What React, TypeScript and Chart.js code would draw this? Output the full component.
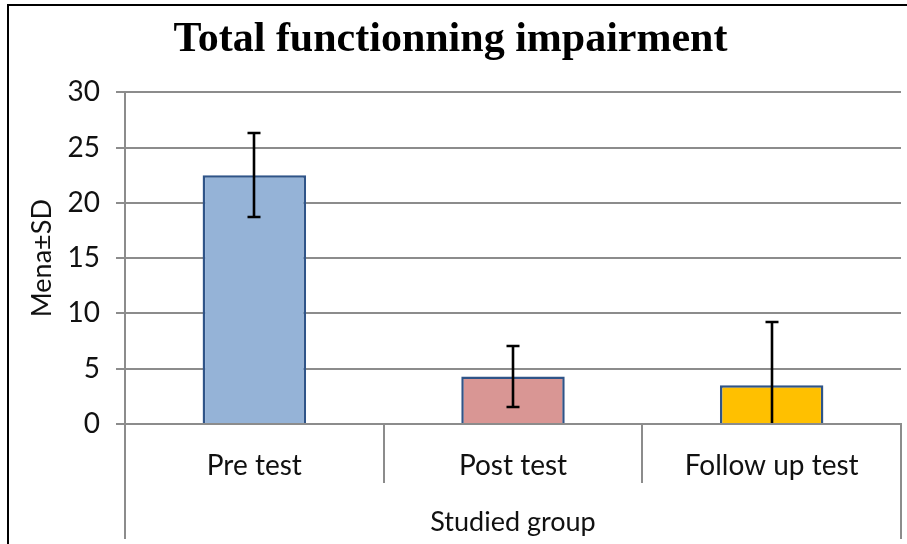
import React, { useEffect, useRef } from "react";
import { Chart, registerables } from "chart.js";

Chart.register(...registerables);

const chartTitle = "Total functionning impairment";
const categories = ["Pre test", "Post test", "Follow up test"];
const means = [22.5, 4.3, 3.5];
const sds = [3.8, 2.8, 5.7];
const barColors = ["#95B3D7", "#D99694", "#FFC000"];
const yTitle = "Mena±SD";
const xTitle = "Studied group";

const GRID = "#8c8c8c";
const FONT = "Lato";
const TEXT = "#111";

const errorBarPlugin = {
  id: "errorBars",
  afterDatasetsDraw(chart: any) {
    const { ctx, chartArea } = chart;
    const meta = chart.getDatasetMeta(0);
    const y = chart.scales.y;
    ctx.save();
    ctx.beginPath();
    ctx.rect(chartArea.left, chartArea.top - 4, chartArea.right - chartArea.left, chartArea.bottom - chartArea.top + 3);
    ctx.clip();
    ctx.strokeStyle = "#000";
    ctx.lineWidth = 2.6;
    meta.data.forEach((bar: any, i: number) => {
      const x = Math.round(bar.x);
      const top = Math.round(y.getPixelForValue(means[i] + sds[i]));
      const bot = Math.round(y.getPixelForValue(means[i] - sds[i]));
      const cap = 6.5;
      ctx.beginPath();
      ctx.moveTo(x, top);
      ctx.lineTo(x, bot);
      ctx.moveTo(x - cap, top);
      ctx.lineTo(x + cap, top);
      ctx.moveTo(x - cap, bot);
      ctx.lineTo(x + cap, bot);
      ctx.stroke();
    });
    ctx.restore();
  },
};

const framePlugin = {
  id: "frame",
  afterDraw(chart: any) {
    const { ctx, chartArea } = chart;
    ctx.save();
    ctx.strokeStyle = "#000";
    ctx.lineWidth = 2;
    ctx.beginPath();
    ctx.moveTo(8, chart.height + 2);
    ctx.lineTo(8, 5);
    ctx.lineTo(chart.width + 2, 5);
    ctx.stroke();
    ctx.strokeStyle = GRID;
    ctx.lineWidth = 2;
    const n = categories.length;
    const w = (chartArea.right - chartArea.left) / n;
    for (let i = 0; i <= n; i++) {
      const x = Math.round(chartArea.left + i * w);
      const end = i === 0 || i === n ? chart.height - 5 : chartArea.bottom + 59;
      ctx.beginPath();
      ctx.moveTo(x, chartArea.bottom);
      ctx.lineTo(x, end);
      ctx.stroke();
    }
    ctx.restore();
  },
};

export default function App() {
  const ref = useRef<HTMLCanvasElement | null>(null);
  useEffect(() => {
    document.body.style.margin = "0";
    const chart = new Chart(ref.current as HTMLCanvasElement, {
      type: "bar",
      data: {
        labels: categories,
        datasets: [
          {
            data: means,
            backgroundColor: barColors,
            borderColor: "#2F5488",
            borderWidth: 2.5,
            barPercentage: 0.4,
            categoryPercentage: 1,
          },
        ],
      },
      options: {
        animation: false,
        responsive: false,
        devicePixelRatio: 1,
        layout: { padding: { left: 0, right: 6, top: 0, bottom: 0 } },
        plugins: {
          legend: { display: false },
          tooltip: { enabled: false },
          title: {
            display: true,
            text: chartTitle,
            color: "#000",
            font: { family: "Liberation Serif", weight: "bold", size: 42, lineHeight: 1.2 },
            padding: { top: 15, bottom: 27 },
          },
        },
        scales: {
          x: {
            offset: true,
            grid: { display: false },
            border: { display: true, color: GRID, width: 2 },
            ticks: {
              color: TEXT,
              font: { family: FONT, size: 28 },
              padding: 17,
              maxRotation: 0,
            },
            title: {
              display: true,
              text: xTitle,
              color: TEXT,
              font: { family: FONT, size: 27, lineHeight: 1.2 },
              padding: { top: 0, bottom: 6 },
            },
            afterFit: (s: any) => {
              s.height = 120;
            },
          },
          y: {
            min: 0,
            max: 30,
            ticks: {
              stepSize: 5,
              color: TEXT,
              font: { family: FONT, size: 28 },
              padding: 16,
            },
            grid: { color: GRID, lineWidth: 2, tickLength: 9, drawTicks: true },
            border: { display: true, color: GRID, width: 2 },
            title: {
              display: true,
              text: yTitle,
              color: TEXT,
              font: { family: FONT, size: 27, lineHeight: 1.2 },
              padding: { top: 26, bottom: 0 },
            },
            afterFit: (s: any) => {
              s.width = 125;
            },
          },
        },
      },
      plugins: [errorBarPlugin, framePlugin],
    } as any);
    return () => chart.destroy();
  }, []);
  return (
    <div style={{ width: 907, height: 544, background: "#fff" }}>
      <canvas ref={ref} width={907} height={544} style={{ display: "block" }} />
    </div>
  );
}
